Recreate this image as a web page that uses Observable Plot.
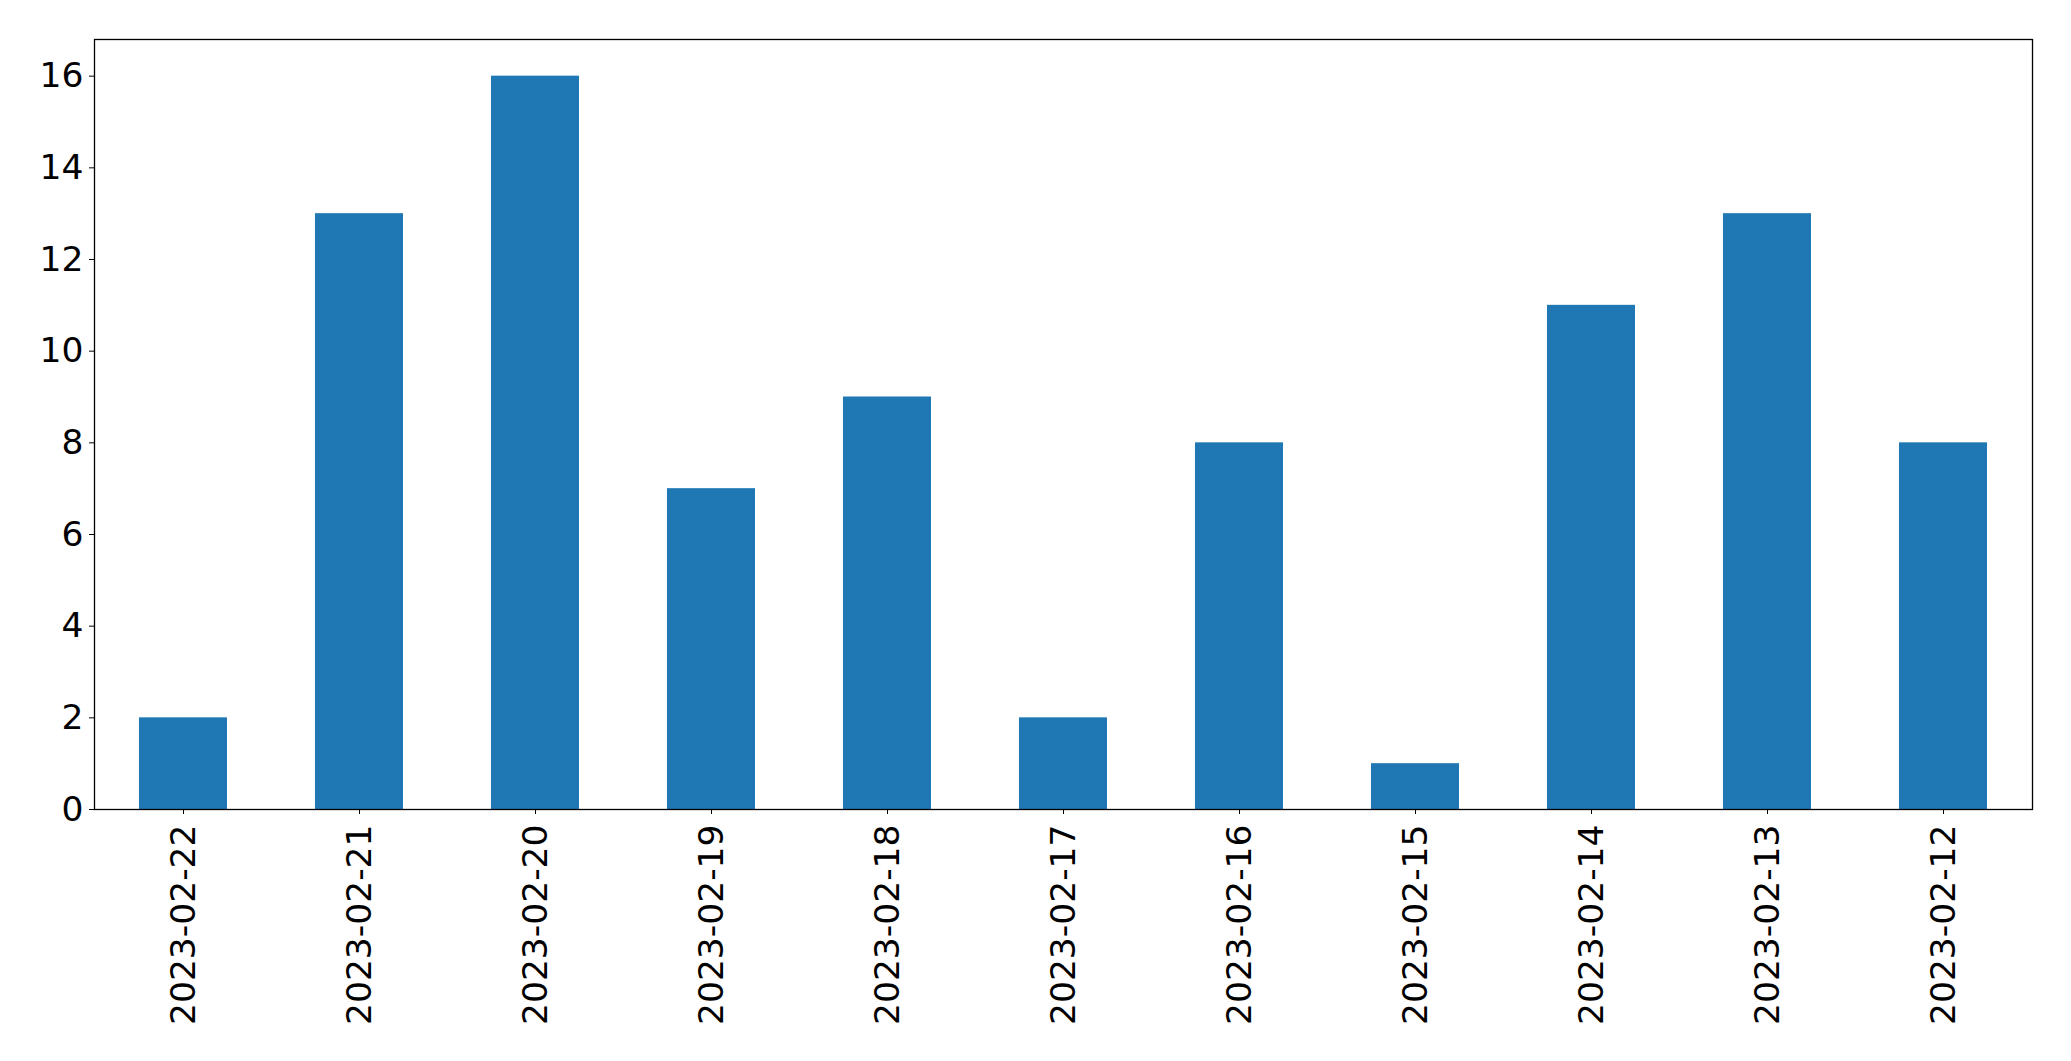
<!DOCTYPE html>
<html>
<head>
<meta charset="utf-8">
<script src="https://cdn.jsdelivr.net/npm/d3@7"></script>
<script src="https://cdn.jsdelivr.net/npm/@observablehq/plot@0.6"></script>
<style>
  html, body { margin: 0; padding: 0; background: #fff; }
  #chart svg { display: block; }
</style>
</head>
<body>
<div id="chart"></div>
<script>
const dates = ["2023-02-22","2023-02-21","2023-02-20","2023-02-19","2023-02-18","2023-02-17","2023-02-16","2023-02-15","2023-02-14","2023-02-13","2023-02-12"];
const counts = [2, 13, 16, 7, 9, 2, 8, 1, 11, 13, 8];
const yTicks = [0, 2, 4, 6, 8, 10, 12, 14, 16];

const data = dates.map((d, i) => ({date: d, count: counts[i]}));

const chart = Plot.plot({
  width: 2071,
  height: 1061,
  marginLeft: 94,
  marginRight: 39,
  marginTop: 39,
  marginBottom: 252,
  style: {fontFamily: "'DejaVu Sans', sans-serif", fontSize: "34.5px", background: "#fff", color: "#000"},
  x: {domain: dates, paddingInner: 0.5, paddingOuter: 0.25, label: null},
  y: {domain: [0, 16.8], label: null},
  marks: [
    Plot.barY(data, {x: "date", y: "count", fill: "#1f77b4"}),
    Plot.axisY({ticks: yTicks, tickSize: 5, tickPadding: 6, label: null, fontSize: 34.5}),
    Plot.axisX({tickSize: 5, tickRotate: -90, tickPadding: 10, label: null, fontSize: 34.5}),
    Plot.frame({stroke: "#000", strokeWidth: 1.3})
  ]
});
document.getElementById("chart").appendChild(chart);
</script>
</body>
</html>
